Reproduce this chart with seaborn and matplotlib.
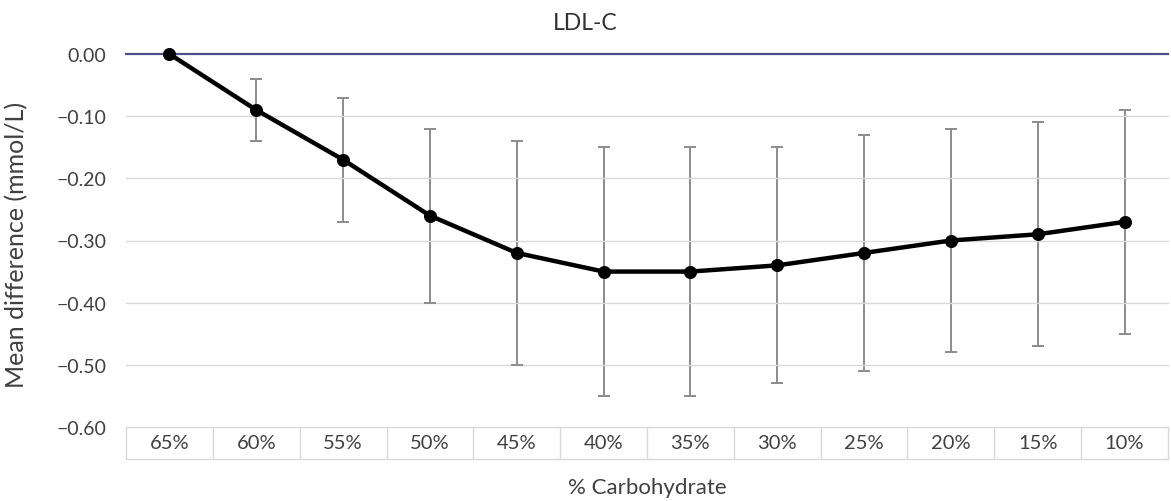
import matplotlib
matplotlib.use("Agg")
import matplotlib.pyplot as plt
import seaborn as sns
import numpy as np
import pandas as pd

categories = ["65%", "60%", "55%", "50%", "45%", "40%", "35%", "30%", "25%", "20%", "15%", "10%"]
mean_diff = [0.00, -0.09, -0.17, -0.26, -0.32, -0.35, -0.35, -0.34, -0.32, -0.30, -0.29, -0.27]
ci_upper = [np.nan, -0.04, -0.07, -0.12, -0.14, -0.15, -0.15, -0.15, -0.13, -0.12, -0.11, -0.09]
ci_lower = [np.nan, -0.14, -0.27, -0.40, -0.50, -0.55, -0.55, -0.53, -0.51, -0.48, -0.47, -0.45]
y_ticks = [0.00, -0.10, -0.20, -0.30, -0.40, -0.50, -0.60]

sns.set_theme(style="white")
plt.rcParams['font.family'] = ['Lato', 'DejaVu Sans']

df = pd.DataFrame({"cat": categories, "val": mean_diff})

fig = plt.figure(figsize=(11.71, 5.02), dpi=100)
ax = fig.add_axes([126/1171, 1-428/502, (1168-126)/1171, (428-55)/502])

txt = "#404040"
# gridlines
for yv in y_ticks[1:-1]:
    ax.axhline(yv, color="#d9d9d9", lw=1.0, zorder=0)

# error bars
x_idx = np.arange(len(categories))
val = np.array(mean_diff)
up = np.array(ci_upper)
lo = np.array(ci_lower)
mask = ~np.isnan(up)
ax.errorbar(x_idx[mask], val[mask], yerr=[val[mask]-lo[mask], up[mask]-val[mask]],
            fmt="none", ecolor="#8c8c8c", elinewidth=1.4, capsize=4, capthick=1.4, zorder=2)

sns.pointplot(data=df, x="cat", y="val", order=categories, color="black", markers="o",
              linestyles="-", errorbar=None, ax=ax, markersize=7, linewidth=3.2, zorder=3)
for ln in ax.lines:
    ln.set_clip_on(False)
    ln.set_zorder(4)

ax.set_xlim(-0.5, len(categories)-0.5)
ax.set_ylim(-0.6, 0.0)
ax.set_yticks(y_ticks)
ax.set_yticklabels([f"{v:.2f}".replace("-", "\u2212") if v != 0 else "0.00" for v in y_ticks])

for s in ["left", "right"]:
    ax.spines[s].set_visible(False)
ax.spines["top"].set_color("#4b4f8c")
ax.spines["top"].set_linewidth(1.6)
ax.spines["top"].set_zorder(3)
ax.spines["bottom"].set_color("#d9d9d9")
ax.spines["bottom"].set_linewidth(1.0)

# category table separators via minor ticks
ax.set_xticks(np.arange(-0.5, len(categories), 1.0), minor=True)
ax.tick_params(axis="x", which="minor", direction="out", length=23, width=1.0, color="#d9d9d9", bottom=True)
ax.tick_params(axis="x", which="major", length=0, pad=5, labelsize=14.5, labelcolor=txt)
ax.tick_params(axis="y", which="both", length=0, pad=14, labelsize=14, labelcolor=txt)
ax.plot([0, 1], [-32/373, -32/373], transform=ax.transAxes, color="#d9d9d9", lw=1.0, clip_on=False)

ax.set_xlabel("% Carbohydrate", fontsize=16, color=txt, va="center")
ax.xaxis.set_label_coords(0.5, -(488-428)/373)
ax.set_ylabel("Mean difference (mmol/L)", fontsize=18, color=txt, va="center")
ax.yaxis.set_label_coords(-(126-17)/1042, 1-(245-55)/373)
fig.text(0.5, 1-24/502, "LDL-C", ha="center", va="center", fontsize=16.5, color="#333333")

fig.savefig("out.png", dpi=100, facecolor="white")
